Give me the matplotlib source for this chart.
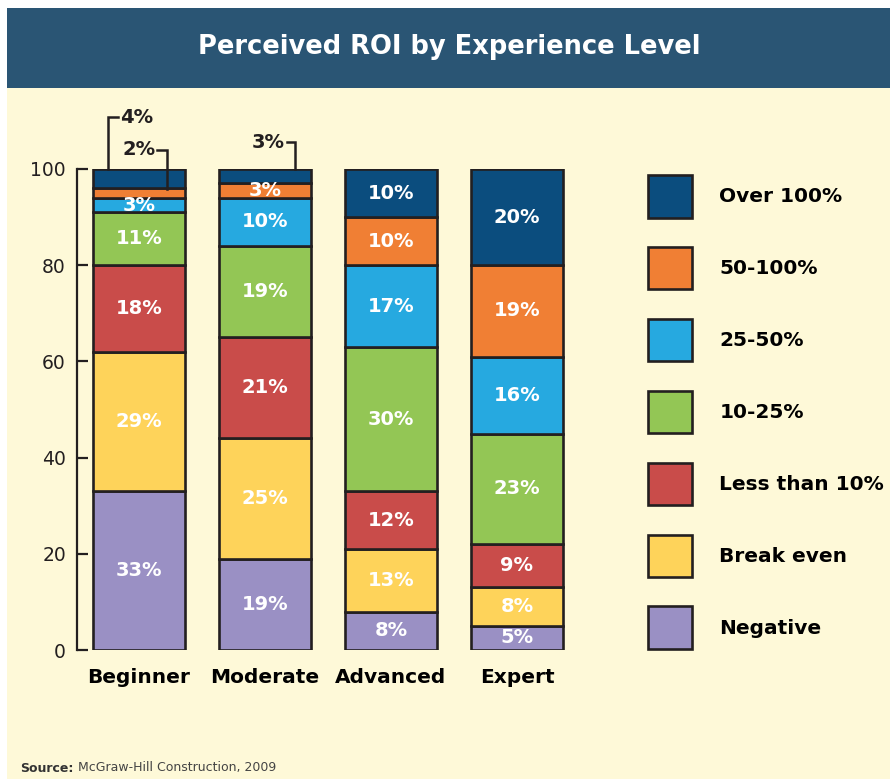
import matplotlib.pyplot as plt
from matplotlib.patches import Rectangle

levels = ['Beginner', 'Moderate', 'Advanced', 'Expert']
series = ['Negative', 'Break even', 'Less than 10%', '10-25%', '25-50%', '50-100%', 'Over 100%']
negative = [33, 19, 8, 5]
break_even = [29, 25, 13, 8]
less_10 = [18, 21, 12, 9]
r10_25 = [11, 19, 30, 23]
r25_50 = [3, 10, 17, 16]
r50_100 = [2, 3, 10, 19]
over_100 = [4, 3, 10, 20]
colors = ['#9a90c4', '#fed35a', '#c94c4a', '#93c655', '#26a9e0', '#f07f34', '#0b4d7e']

# labels drawn outside the bars with a bracket line
outside = {(0, 6), (0, 5), (1, 6)}

ink = '#231f20'
cream = '#fef9d8'
band = '#2a5574'
narrow = ['Liberation Sans Narrow', 'DejaVu Sans']

fig = plt.figure(figsize=(8.9, 7.79), dpi=100)
fig.patch.set_facecolor('white')
W, H = 890, 779
fig.patches.append(Rectangle((7 / W, 0), 1, 1 - 8 / H, transform=fig.transFigure,
                             facecolor=cream, edgecolor='none', zorder=-10))
fig.patches.append(Rectangle((7 / W, 1 - 88 / H), 1, 80 / H, transform=fig.transFigure,
                             facecolor=band, edgecolor='none', zorder=-9))
fig.text(449 / W, 1 - 47 / H, 'Perceived ROI by Experience Level', color='white',
         fontsize=18.5, fontweight='bold', ha='center', va='center')

ax = fig.add_axes([77 / W, (H - 650) / H, (580 - 77) / W, 481 / H])
ax.set_facecolor('none')

data = [negative, break_even, less_10, r10_25, r25_50, r50_100, over_100]
x = list(range(len(levels)))
bottom = [0] * len(levels)
for k, (name, vals) in enumerate(zip(series, data)):
    ax.bar(x, vals, bottom=bottom, width=0.73, color=colors[k], edgecolor=ink,
           linewidth=1.9, label=name, zorder=2)
    for i, v in enumerate(vals):
        if (i, k) not in outside:
            ax.text(i, bottom[i] + v / 2, f'{v}%', color='white', fontsize=14,
                    fontweight='bold', ha='center', va='center', zorder=3)
    bottom = [b + v for b, v in zip(bottom, vals)]

# bracket annotations for thin top segments
lk = dict(color=ink, lw=1.8, clip_on=False, solid_joinstyle='miter')
ax.plot([-0.246, -0.246, -0.167], [100, 110.8, 110.8], **lk)
ax.text(-0.15, 110.8, f'{over_100[0]}%', fontsize=14, fontweight='bold', color=ink,
        ha='left', va='center')
ax.plot([0.143, 0.222, 0.222], [104, 104, 95.8], **lk)
ax.text(0.13, 104, f'{r50_100[0]}%', fontsize=14, fontweight='bold', color=ink,
        ha='right', va='center')
ax.plot([1.175, 1.238, 1.238], [105.6, 105.6, 100], **lk)
ax.text(1.16, 105.6, f'{over_100[1]}%', fontsize=14, fontweight='bold', color=ink,
        ha='right', va='center')

ax.set_xlim(-0.492, 3.5)
ax.set_ylim(0, 100)
ax.set_yticks([0, 20, 40, 60, 80, 100])
ax.set_xticks(x)
ax.set_xticklabels(levels, fontsize=14.5, fontweight='bold')
for s in ['top', 'right', 'bottom']:
    ax.spines[s].set_visible(False)
ax.spines['left'].set_linewidth(1.6)
ax.spines['left'].set_color(ink)
ax.tick_params(axis='y', direction='in', length=8, width=1.6, color=ink,
               labelsize=13.5, labelcolor=ink, pad=8)
ax.tick_params(axis='x', length=0, pad=13, labelcolor='black')

handles, labels = ax.get_legend_handles_labels()
leg = fig.legend(handles[::-1], labels[::-1], loc='upper left',
                 bbox_to_anchor=(648 / W, 1 - 175 / H), frameon=False,
                 prop={'size': 14.5, 'weight': 'bold'},
                 handlelength=2.2, handleheight=2.87, labelspacing=1.46,
                 handletextpad=1.35, borderpad=0, borderaxespad=0)

src = fig.text(20 / W, 1 - 768 / H, 'Source:', fontsize=9, fontweight='bold', color='#333333',
               family=narrow, va='center', ha='left')
ax.annotate('McGraw-Hill Construction, 2009', xy=(1, 0.5), xycoords=src,
            xytext=(3, 0), textcoords='offset points', fontsize=9, color='#444444',
            family=narrow, va='center', ha='left', annotation_clip=False)

fig.savefig('out.png', dpi=100)
